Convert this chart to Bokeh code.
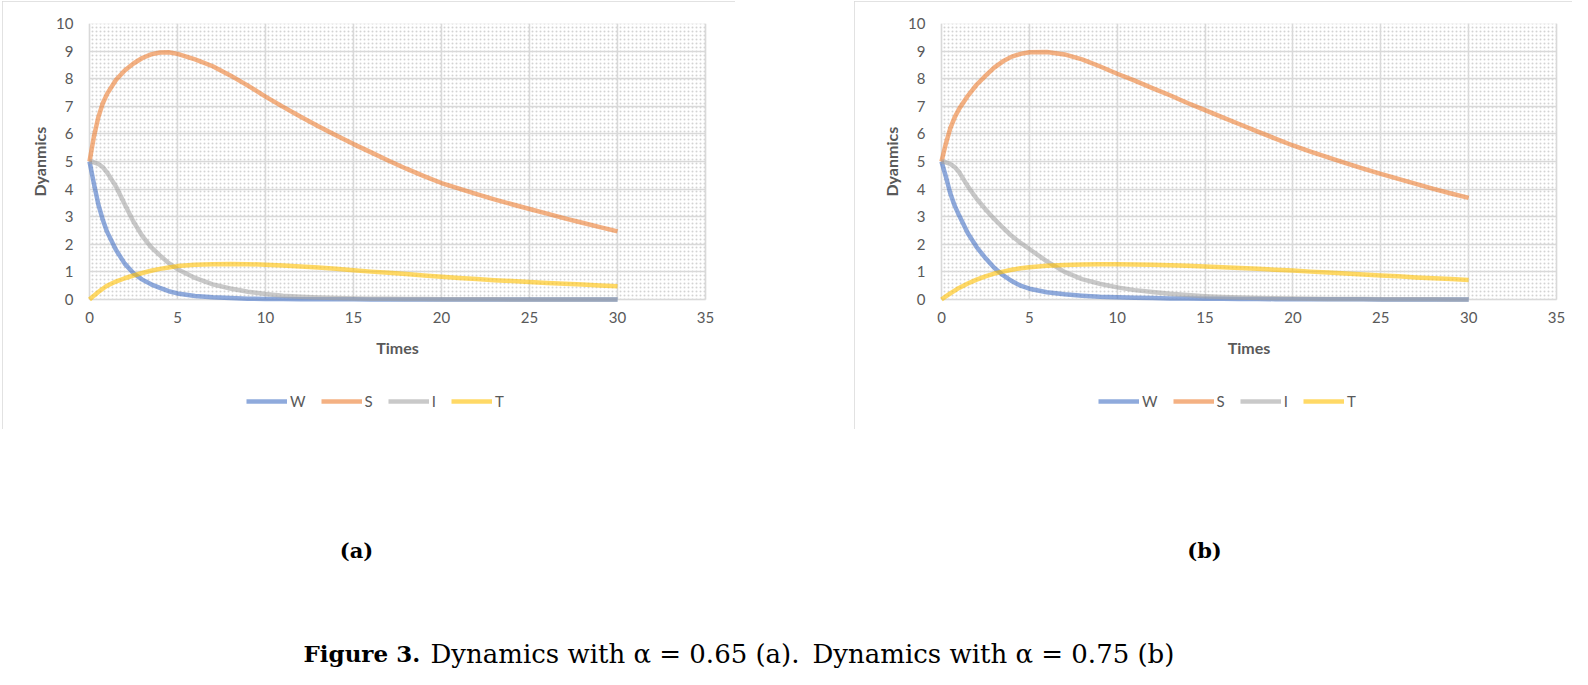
from bokeh.plotting import figure
from bokeh.models import (Range1d, Legend, LegendItem, BoxAnnotation, Label, Spacer,
                          ColumnDataSource, Title)
from bokeh.layouts import row, column
from bokeh.embed import file_html
from bokeh.resources import INLINE

# ---------------- data ----------------
times = [0, 0.25, 0.5, 0.75, 1, 1.5, 2, 2.5, 3, 3.5, 4, 4.5, 5,
         6, 7, 8, 9, 10, 11, 12, 13, 14, 15, 16, 17, 18, 19, 20,
         21, 22, 23, 24, 25, 26, 27, 28, 29, 30]

series_names = ["W", "S", "I", "T"]
series_colors = ["#4472C4", "#ED7D31", "#A5A5A5", "#FFC000"]

# panel (a): alpha = 0.65
W_a = [5.0, 4.2, 3.45, 2.9, 2.45, 1.8, 1.3, 0.95, 0.72, 0.55, 0.42, 0.3, 0.22,
       0.13, 0.08, 0.05, 0.03, 0.02, 0.015, 0.01, 0.008, 0.006, 0.005, 0.004, 0.003,
       0.002, 0.002, 0.001, 0.001, 0.001, 0, 0, 0, 0, 0, 0, 0, 0]
S_a = [5.0, 5.9, 6.6, 7.1, 7.45, 7.95, 8.3, 8.55, 8.75, 8.88, 8.95, 8.96, 8.9,
       8.7, 8.45, 8.12, 7.75, 7.35, 6.98, 6.62, 6.28, 5.95, 5.63, 5.33, 5.03,
       4.74, 4.47, 4.22, 4.02, 3.82, 3.63, 3.45, 3.28, 3.11, 2.94, 2.78, 2.62, 2.47]
I_a = [5.0, 4.97, 4.91, 4.8, 4.6, 4.1, 3.45, 2.82, 2.3, 1.9, 1.6, 1.32, 1.1,
       0.78, 0.55, 0.4, 0.28, 0.2, 0.14, 0.1, 0.07, 0.05, 0.04, 0.03, 0.025,
       0.02, 0.015, 0.01, 0.008, 0.006, 0.005, 0.004, 0.003, 0.002, 0.002, 0.001, 0.001, 0.001]
T_a = [0, 0.14, 0.27, 0.39, 0.5, 0.65, 0.77, 0.87, 0.96, 1.04, 1.11, 1.16, 1.21,
       1.26, 1.28, 1.29, 1.28, 1.26, 1.23, 1.2, 1.16, 1.11, 1.06, 1.01, 0.97,
       0.92, 0.87, 0.82, 0.78, 0.74, 0.70, 0.67, 0.63, 0.60, 0.57, 0.54, 0.51, 0.48]

# panel (b): alpha = 0.75
W_b = [5.0, 4.45, 3.85, 3.4, 3.05, 2.4, 1.9, 1.5, 1.15, 0.88, 0.67, 0.5, 0.39,
       0.26, 0.19, 0.14, 0.1, 0.08, 0.065, 0.05, 0.04, 0.035, 0.03, 0.025, 0.02,
       0.016, 0.013, 0.01, 0.008, 0.007, 0.006, 0.005, 0.004, 0.003, 0.003, 0.002, 0.002, 0.001]
S_b = [5.0, 5.65, 6.2, 6.6, 6.9, 7.38, 7.78, 8.1, 8.4, 8.63, 8.8, 8.9, 8.96,
       8.97, 8.88, 8.7, 8.45, 8.18, 7.93, 7.66, 7.4, 7.12, 6.86, 6.6, 6.34,
       6.08, 5.83, 5.58, 5.36, 5.15, 4.94, 4.74, 4.55, 4.37, 4.19, 4.01, 3.84, 3.68]
I_b = [5.0, 4.97, 4.91, 4.8, 4.62, 4.1, 3.65, 3.27, 2.92, 2.6, 2.3, 2.05, 1.83,
       1.38, 1.0, 0.74, 0.57, 0.44, 0.34, 0.27, 0.21, 0.16, 0.12, 0.09, 0.07,
       0.055, 0.045, 0.035, 0.028, 0.022, 0.018, 0.014, 0.011, 0.009, 0.007, 0.005, 0.004, 0.003]
T_b = [0, 0.11, 0.22, 0.32, 0.42, 0.58, 0.72, 0.84, 0.94, 1.01, 1.08, 1.13, 1.17,
       1.22, 1.25, 1.27, 1.28, 1.28, 1.27, 1.26, 1.24, 1.22, 1.2, 1.17, 1.14,
       1.11, 1.08, 1.05, 1.01, 0.98, 0.94, 0.91, 0.87, 0.84, 0.80, 0.77, 0.74, 0.71]

x_ticks = [0, 5, 10, 15, 20, 25, 30, 35]
y_ticks = [0, 1, 2, 3, 4, 5, 6, 7, 8, 9, 10]
x_title = "Times"
y_title = "Dyanmics"
panel_labels = ["(a)", "(b)"]
caption_bold = "Figure 3."
caption_parts = ["Dynamics with α = 0.65 (a).", "Dynamics with α = 0.75 (b)"]

TXT = "#595959"
GRID = "#d9d9d9"
SANS = "Lato"

# layout constants (pixels)
PANEL_H = 428
TOP_PAD = 22          # panel top -> y = 10 line
PLOT_PX = 276         # height of the 0..10 plot area
PLOT_W = 616          # width of the 0..35 plot area
BOTTOM_PAD = 9        # frame is extended downwards to hold the key
SIDE_PAD = 11         # frame is widened a little so the end tick labels are not cut
FRAME_PX = PANEL_H - TOP_PAD - BOTTOM_PAD
Y_LO = y_ticks[-1] - (y_ticks[-1] - y_ticks[0]) * FRAME_PX / PLOT_PX
X_PAD = (x_ticks[-1] - x_ticks[0]) * SIDE_PAD / PLOT_W
YTITLE_LEN = 70       # approximate length of the rotated y title


def make_panel(data, width, left, right):
    p = figure(width=width, height=PANEL_H,
               x_range=Range1d(x_ticks[0] - X_PAD, x_ticks[-1] + X_PAD),
               y_range=Range1d(Y_LO, y_ticks[-1]),
               output_backend="svg", toolbar_location=None,
               min_border_left=left - SIDE_PAD, min_border_right=right - SIDE_PAD,
               min_border_top=TOP_PAD, min_border_bottom=BOTTOM_PAD,
               background_fill_color="white", border_fill_color="white",
               outline_line_color=None,
               styles={"outline": "1px solid #d9d9d9", "outline-offset": "-1px"})

    # plot area: dotted pattern fill + light border
    bg = BoxAnnotation(left=x_ticks[0], right=x_ticks[-1],
                       bottom=y_ticks[0], top=y_ticks[-1],
                       fill_alpha=0, line_color=GRID, line_width=1.5, level="image",
                       hatch_pattern="dot", hatch_scale=4, hatch_weight=1.1,
                       hatch_color="#c4c4c4", hatch_alpha=0.75)
    p.add_layout(bg)

    p.xaxis.ticker = x_ticks
    p.yaxis.ticker = y_ticks
    p.xaxis.fixed_location = y_ticks[0]
    for ax in (p.xaxis, p.yaxis):
        ax.axis_line_color = None
        ax.major_tick_line_color = None
        ax.minor_tick_line_color = None
        ax.major_tick_out = 0
        ax.major_tick_in = 0
        ax.minor_tick_out = 0
        ax.minor_tick_in = 0
        ax.major_label_text_font = SANS
        ax.major_label_text_font_size = "15px"
        ax.major_label_text_color = TXT
        ax.axis_label_text_font = SANS
        ax.axis_label_text_font_size = "16px"
        ax.axis_label_text_font_style = "bold"
        ax.axis_label_text_color = TXT
    p.xaxis.axis_label = x_title
    p.xaxis.major_label_standoff = 12
    p.xaxis.axis_label_standoff = 12
    p.yaxis.major_label_standoff = 16 - SIDE_PAD

    # y title centred on the 0..10 band (the frame itself is taller)
    ytitle = Title(text=y_title, align="left",
                   offset=(FRAME_PX - PLOT_PX) + PLOT_PX / 2 - YTITLE_LEN / 2,
                   standoff=9, text_font=SANS, text_font_size="16px",
                   text_font_style="bold", text_color=TXT)
    p.add_layout(ytitle, "left")

    p.grid.grid_line_color = GRID
    p.grid.grid_line_width = 1.5
    xg, yg = p.xgrid[0], p.ygrid[0]
    if "cross_bounds" in xg.properties():
        xg.cross_bounds = (y_ticks[0], y_ticks[-1])
        yg.cross_bounds = (x_ticks[0], x_ticks[-1])
    else:
        xg.visible = False
        yg.visible = False
        n, m = len(x_ticks), len(y_ticks)
        p.segment(x0=x_ticks, y0=[y_ticks[0]] * n, x1=x_ticks, y1=[y_ticks[-1]] * n,
                  line_color=GRID, line_width=1.5, level="underlay")
        p.segment(x0=[x_ticks[0]] * m, y0=y_ticks, x1=[x_ticks[-1]] * m, y1=y_ticks,
                  line_color=GRID, line_width=1.5, level="underlay")

    items = []
    for name, color in zip(series_names, series_colors):
        src = ColumnDataSource(dict(t=times, v=data[name]))
        r = p.line("t", "v", source=src, line_color=color, line_alpha=0.6,
                   line_width=4.5, line_join="round")
        items.append(LegendItem(label=name, renderers=[r]))

    legend = Legend(items=items, orientation="horizontal", location=(157 + SIDE_PAD, 10),
                    glyph_width=41, glyph_height=18, label_height=18, label_width=0,
                    label_standoff=3, spacing=15, padding=0, margin=0,
                    border_line_color=None, background_fill_alpha=0,
                    label_text_font=SANS, label_text_font_size="15px",
                    label_text_color=TXT)
    p.add_layout(legend, "center")
    return p


pa = make_panel({"W": W_a, "S": S_a, "I": I_a, "T": T_a}, 733, 87, 30)
pb = make_panel({"W": W_b, "S": S_b, "I": I_b, "T": T_b}, 718, 87, 16)

CAP_H = 240
cap = figure(width=1572, height=CAP_H, x_range=Range1d(0, 1), y_range=Range1d(0, 1),
             output_backend="svg", toolbar_location=None, min_border=0,
             outline_line_color=None, x_axis_location=None, y_axis_location=None,
             background_fill_color="white", border_fill_color="white")
cap.grid.visible = False

for lbl, xs in zip(panel_labels, [356, 1204]):
    cap.add_layout(Label(x=xs, y=CAP_H - 121, x_units="screen", y_units="screen", text=lbl,
                         text_font="DejaVu Serif", text_font_style="bold",
                         text_font_size="21px", text_color="black",
                         text_align="center", text_baseline="middle"))

cap.add_layout(Label(x=303, y=16, x_units="screen", y_units="screen", text=caption_bold,
                     text_font="DejaVu Serif", text_font_style="bold",
                     text_font_size="23px", text_color="black",
                     text_align="left", text_baseline="alphabetic"))
for part, xs in zip(caption_parts, [430, 812]):
    cap.add_layout(Label(x=xs, y=16, x_units="screen", y_units="screen", text=part,
                         text_font="DejaVu Serif", text_font_size="26px",
                         text_color="black", text_align="left",
                         text_baseline="alphabetic"))

layout = column(Spacer(width=10, height=1),
                row(Spacer(width=2, height=PANEL_H), pa,
                    Spacer(width=119, height=PANEL_H), pb),
                cap)

open("out.html", "w").write(file_html(layout, INLINE))
